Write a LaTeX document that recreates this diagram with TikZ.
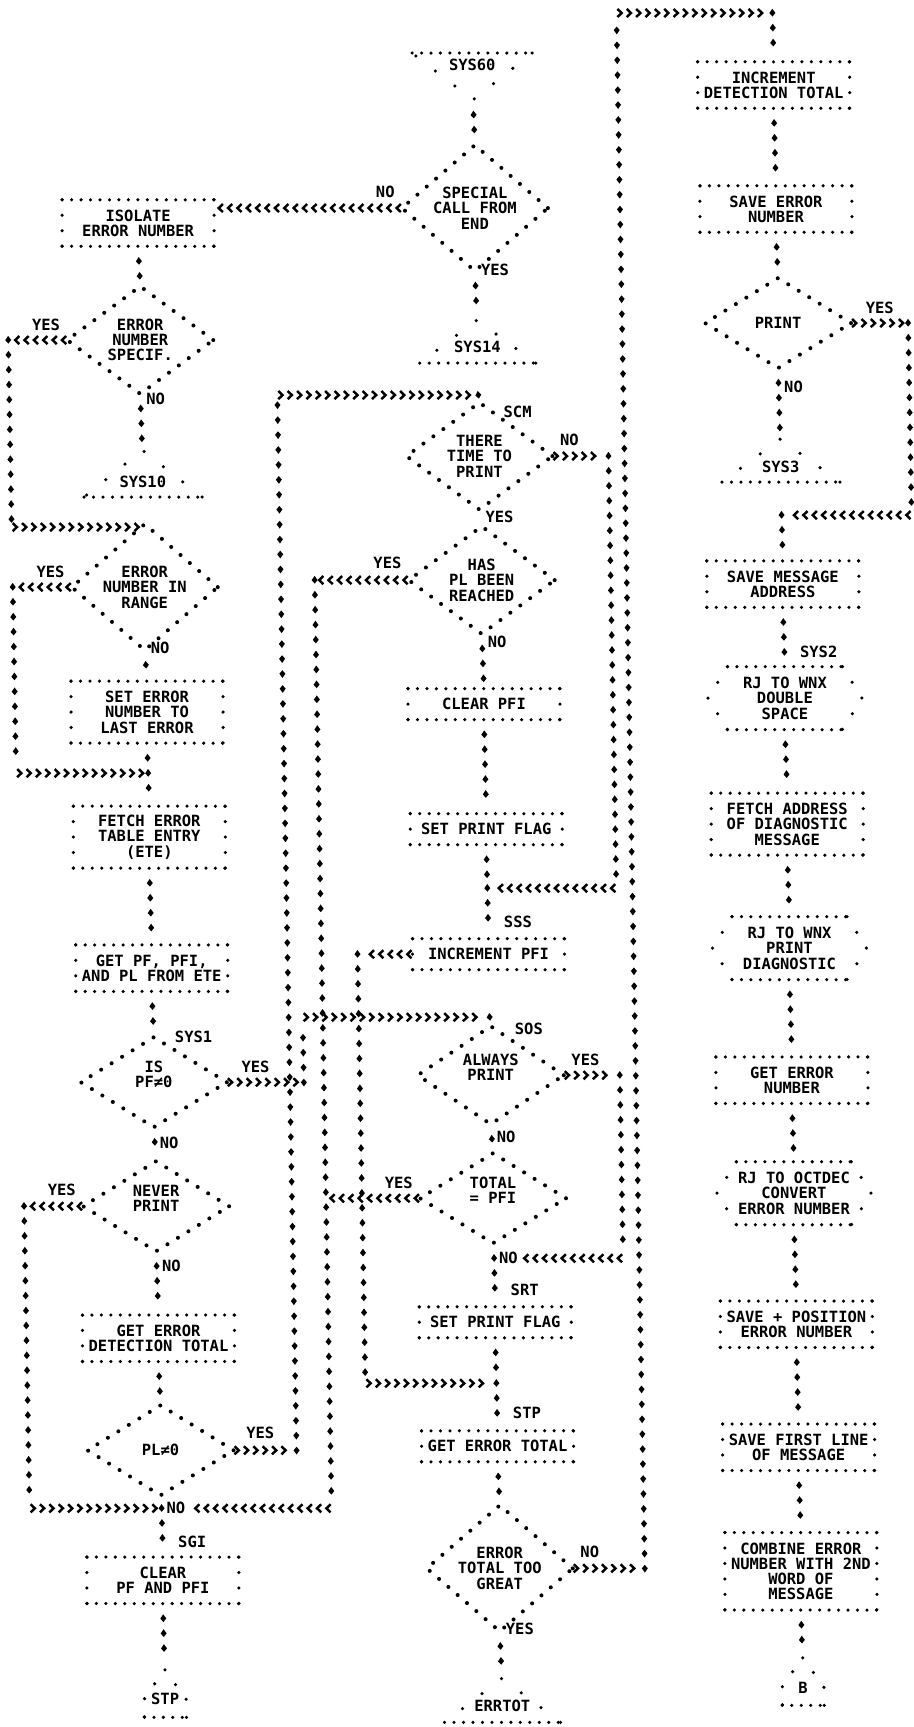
\documentclass[tikz,border=0pt]{standalone}
\usepackage{fontspec}
\newfontfamily\lpfont{DejaVu Sans Mono}
\usetikzlibrary{shapes.geometric,decorations.markings,arrows.meta}

\tikzset{
    every node/.style={font=\lpfont\bfseries\fontsize{8.8}{8.7}\selectfont, inner sep=0pt, outer sep=0pt, align=center},
    dotline/.style={dash pattern=on 0pt off 5.39pt, line cap=round, line width=2pt},
    sidedots/.style={dash pattern=on 0pt off 8.79pt, line cap=round, line width=2pt},
    hexside/.style={dash pattern=on 0pt off 10.5pt, line cap=round, line width=2pt},
    tside/.style={dash pattern=on 0pt off 14pt, line cap=round, line width=2pt},
    tsmall/.style={dash pattern=on 0pt off 10.3pt, line cap=round, line width=2pt},
    box/.style={minimum width=3.04cm, minimum height={(#1+1)*0.31cm}},
    box/.default=2,
    decision/.style={shape=diamond, draw, dash pattern=on 0pt off 7pt, line cap=round, line width=2.3pt, minimum width=2.92cm, minimum height=1.8cm},
    hexbox/.style={minimum width=3.08cm, minimum height=1.26cm},
    hflow/.style={decorate, decoration={markings, mark=between positions 4pt and -1.5pt step 5.33pt with {\arrow{Straight Barb[length=2.4pt,width=4.6pt,line width=1.4pt]}}}},
    vflow/.style={decorate, decoration={markings, mark=between positions 8.5pt and -4.5pt step 8.5pt with {\fill (-2.4pt,0pt) -- (0pt,1.7pt) -- (2pt,0pt) -- (0pt,-1.7pt) -- cycle;}}},
    vline/.style={decorate, decoration={markings, mark=between positions 0pt and -4pt step 8.5pt with {\fill (-2.4pt,0pt) -- (0pt,1.7pt) -- (2pt,0pt) -- (0pt,-1.7pt) -- cycle;}}}
}

\begin{document}
\begin{tikzpicture}[x={(0.02cm,0cm)}, y={(0.00036cm,-0.02cm)}]
    \path[use as bounding box, fill=white] (0cm,0cm) rectangle (18.28cm,-34.54cm);

    % Left column
    \node[box=2] (isolate) at (134,223) {ISOLATE\\ERROR NUMBER};
    \node[decision] (specif) at (134,340) {ERROR\\NUMBER\\SPECIF.};
    \node[anchor=east] (specifyes) at (54,325) {YES};
    \node[anchor=west] (specifno) at (139,399) {NO};
    \node (sys10) at (134,482) {SYS10};
    \coordinate (sys10top) at (134,450);
    \coordinate (j1) at (134,527);
    \node[decision] (range) at (134,587) {ERROR\\NUMBER IN\\RANGE};
    \node[anchor=east] (rangeyes) at (54,572) {YES};
    \node[anchor=west] (rangeno) at (139,648) {NO};
    \node[box=3] (seterr) at (134,712) {SET ERROR\\NUMBER TO\\LAST ERROR};
    \coordinate (j2) at (134,773);
    \node[box=3] (fetch) at (134,837) {FETCH ERROR\\TABLE ENTRY\\(ETE)};
    \node[box=2] (getpf) at (134,968) {GET PF, PFI,\\AND PL FROM ETE};
    \node[anchor=west] (sys1) at (156,1037) {SYS1};
    \node[decision] (ispf) at (134,1082) {IS\\PF≠0\\\mbox{}};
    \node[anchor=west] (ispfyes) at (222,1067) {YES};
    \node[anchor=west] (ispfno) at (139,1143) {NO};
    \node[decision] (never) at (134,1206) {NEVER\\PRINT\\\mbox{}};
    \node[anchor=east] (neveryes) at (54,1190) {YES};
    \node[anchor=west] (neverno) at (139,1266) {NO};
    \node[box=2] (geterr) at (134,1338) {GET ERROR\\DETECTION TOTAL};
    \node[decision] (pl) at (134,1450) {PL≠0};
    \node[anchor=west] (plyes) at (220,1433) {YES};
    \coordinate (j3) at (134,1508);
    \node[anchor=west] (j3no) at (139,1508) {NO};
    \node[anchor=west] (sgi) at (150,1542) {SGI};
    \node[box=2] (clear) at (134,1580) {CLEAR\\PF AND PFI};
    \node (stp) at (134,1699) {STP};
    \coordinate (stptop) at (134,1669);

    % Centre column
    \node (sys60) at (471,65) {SYS60};
    \coordinate (sys60bot) at (471,100);
    \node[decision] (special) at (471,208) {SPECIAL\\CALL FROM\\END};
    \node[anchor=east] (specialno) at (391,192) {NO};
    \node[anchor=west] (specialyes) at (476,270) {YES};
    \node (sys14) at (471,347) {SYS14};
    \coordinate (sys14top) at (471,320);
    \coordinate (scmj) at (471,395);
    \node[anchor=west] (scmlbl) at (496,412) {SCM};
    \node[decision] (scm) at (471,456) {THERE\\TIME TO\\PRINT};
    \node[anchor=west] (scmno) at (552,440) {NO};
    \node[anchor=west] (scmyes) at (476,517) {YES};
    \node[decision] (has) at (471,580) {HAS\\PL BEEN\\REACHED};
    \node[anchor=east] (hasyes) at (391,563) {YES};
    \node[anchor=west] (hasno) at (476,642) {NO};
    \node[box=1] (clrpfi) at (471,704) {CLEAR PFI};
    \node[box=1] (setflag) at (471,829) {SET PRINT FLAG};
    \coordinate (j4) at (471,888);
    \node[anchor=west] (sss) at (487,922) {SSS};
    \node[box=1] (incpfi) at (471,954) {INCREMENT PFI};
    \coordinate (j5) at (471,1017);
    \node[anchor=west] (sos) at (496,1029) {SOS};
    \node[decision] (always) at (471,1075) {ALWAYS\\PRINT\\\mbox{}};
    \node[anchor=west] (alwaysyes) at (552,1060) {YES};
    \node[anchor=west] (alwaysno) at (476,1137) {NO};
    \node[decision] (total) at (471,1198) {TOTAL\\= PFI\\\mbox{}};
    \node[anchor=east] (totalyes) at (391,1183) {YES};
    \coordinate (j6) at (471,1258);
    \node[anchor=west] (j6no) at (476,1258) {NO};
    \node[anchor=west] (srt) at (487,1290) {SRT};
    \node[box=1] (setflagb) at (471,1322) {SET PRINT FLAG};
    \coordinate (j7) at (471,1383);
    \node[anchor=west] (stplbl) at (487,1413) {STP};
    \node[box=1] (geterrtot) at (471,1446) {GET ERROR TOTAL};
    \node[decision] (errtotal) at (471,1568) {ERROR\\TOTAL TOO\\GREAT};
    \node[anchor=west] (errtotalno) at (552,1552) {NO};
    \node[anchor=west] (errtotalyes) at (476,1629) {YES};
    \node (errtot) at (471,1706) {ERRTOT};
    \coordinate (errtottop) at (471,1678);

    % Right column
    \coordinate (rtop) at (772,13);
    \node[box=2] (incdet) at (772,85) {INCREMENT\\DETECTION TOTAL};
    \node[box=2] (saveerr) at (772,209) {SAVE ERROR\\NUMBER};
    \node[decision] (print) at (772,323) {PRINT};
    \node[anchor=west] (printyes) at (860,308) {YES};
    \node[anchor=west] (printno) at (777,387) {NO};
    \node (sys3) at (772,467) {SYS3};
    \coordinate (sys3top) at (772,439);
    \coordinate (j8) at (772,515);
    \node[box=2] (savemsg) at (772,584) {SAVE MESSAGE\\ADDRESS};
    \node[anchor=west] (sys2) at (788,652) {SYS2};
    \node[hexbox] (rjdbl) at (772,698) {RJ TO WNX\\DOUBLE\\SPACE};
    \node[box=3] (fetchaddr) at (772,824) {FETCH ADDRESS\\OF DIAGNOSTIC\\MESSAGE};
    \node[hexbox] (rjdiag) at (772,948) {RJ TO WNX\\PRINT\\DIAGNOSTIC};
    \node[box=2] (geterrnum) at (772,1080) {GET ERROR\\NUMBER};
    \node[hexbox] (rjoct) at (772,1193) {RJ TO OCTDEC\\CONVERT\\ERROR NUMBER};
    \node[box=2] (savepos) at (772,1324) {SAVE + POSITION\\ERROR NUMBER};
    \node[box=2] (savefirst) at (772,1447) {SAVE FIRST LINE\\OF MESSAGE};
    \node[box=4] (combine) at (772,1571) {COMBINE ERROR\\NUMBER WITH 2ND\\WORD OF\\MESSAGE};
    \node (bconn) at (772,1687) {B};
    \coordinate (btop) at (772,1657);

    % Box outlines
    \foreach \b in {isolate,seterr,fetch,getpf,geterr,clear,clrpfi,setflag,incpfi,setflagb,geterrtot,incdet,saveerr,savemsg,fetchaddr,geterrnum,savepos,savefirst,combine} {
        \draw[dotline] (\b.north west) -- (\b.north east) (\b.south west) -- (\b.south east);
        \draw[sidedots] (\b.north west) -- (\b.south west) (\b.north east) -- (\b.south east);
    }

    % Subroutine call outlines
    \foreach \h in {rjdbl,rjdiag,rjoct} {
        \draw[dotline] ([xshift=0.39cm]\h.north west) -- ([xshift=-0.39cm]\h.north east) ([xshift=0.39cm]\h.south west) -- ([xshift=-0.39cm]\h.south east);
        \draw[hexside] ([xshift=-0.39cm]\h.north east) -- (\h.east) -- ([xshift=-0.39cm]\h.south east) ([xshift=0.39cm]\h.north west) -- (\h.west) -- ([xshift=0.39cm]\h.south west);
    }

    % Terminal outlines
    \draw[dotline] ([shift={(-60,-12)}]sys60.center) -- ([shift={(60,-12)}]sys60.center);
    \draw[tside] ([shift={(60,-12)}]sys60.center) -- (sys60bot) -- ([shift={(-60,-12)}]sys60.center);
    \draw[dotline] ([shift={(-58,16)}]sys14.center) -- ([shift={(58,16)}]sys14.center);
    \draw[tside] ([shift={(58,16)}]sys14.center) -- (sys14top) -- ([shift={(-58,16)}]sys14.center);
    \draw[dotline] ([shift={(-59,15)}]sys10.center) -- ([shift={(59,15)}]sys10.center);
    \draw[tside] ([shift={(59,15)}]sys10.center) -- (sys10top) -- ([shift={(-59,15)}]sys10.center);
    \draw[dotline] ([shift={(-59,15)}]sys3.center) -- ([shift={(59,15)}]sys3.center);
    \draw[tside] ([shift={(59,15)}]sys3.center) -- (sys3top) -- ([shift={(-59,15)}]sys3.center);
    \draw[dotline] ([shift={(-58,16)}]errtot.center) -- ([shift={(58,16)}]errtot.center);
    \draw[tside] ([shift={(58,16)}]errtot.center) -- (errtottop) -- ([shift={(-58,16)}]errtot.center);
    \draw[dotline] ([shift={(-21,18)}]stp.center) -- ([shift={(21,18)}]stp.center);
    \draw[tsmall] ([shift={(21,18)}]stp.center) -- ([shift={(21,0)}]stp.center) -- (stptop) -- ([shift={(-21,0)}]stp.center) -- ([shift={(-21,18)}]stp.center);
    \draw[dotline] ([shift={(-21,18)}]bconn.center) -- ([shift={(21,18)}]bconn.center);
    \draw[tsmall] ([shift={(21,18)}]bconn.center) -- ([shift={(21,0)}]bconn.center) -- (btop) -- ([shift={(-21,0)}]bconn.center) -- ([shift={(-21,18)}]bconn.center);

    % Loop corners
    \coordinate (specifl) at (2,340);
    \coordinate (specifd) at (2,527);
    \coordinate (rangel) at (2,587);
    \coordinate (ranged) at (2,773);
    \coordinate (neverl) at (2,1206);
    \coordinate (neverd) at (2,1508);
    \coordinate (ispfr) at (284,1082);
    \coordinate (ispfu) at (284,1017);
    \coordinate (plr) at (270,1450);
    \coordinate (plu) at (270,395);
    \coordinate (hasl) at (304,580);
    \coordinate (hasd) at (304,1508);
    \coordinate (totall) at (304,1198);
    \coordinate (incl) at (340,954);
    \coordinate (incd) at (340,1383);
    \coordinate (scmr) at (600,456);
    \coordinate (scmd) at (600,888);
    \coordinate (alwaysr) at (600,1075);
    \coordinate (alwaysd) at (600,1258);
    \coordinate (errr) at (616,1568);
    \coordinate (erru) at (616,13);
    \coordinate (printr) at (902,323);
    \coordinate (printd) at (902,515);

    % Left flow
    \path[vflow] (isolate.south) -- (specif.north);
    \path[vflow] (specif.south) -- (sys10top);
    \path[hflow] (specif.west) -- (specifl);
    \path[vline] (specifl) -- (specifd);
    \path[hflow] (specifd) -- (j1);
    \path[vline] (j1) -- (range.north);
    \path[hflow] (range.west) -- (rangel);
    \path[vline] (rangel) -- (ranged);
    \path[hflow] (ranged) -- (j2);
    \path[vflow] (range.south) -- (seterr.north);
    \path[vflow] (seterr.south) -- (j2);
    \path[vline] (j2) -- (fetch.north);
    \path[vflow] (fetch.south) -- (getpf.north);
    \path[vflow] (getpf.south) -- (ispf.north);
    \path[hflow] (ispf.east) -- (ispfr);
    \path[vline] (ispfr) -- (ispfu);
    \path[hflow] (ispfu) -- (j5);
    \path[vflow] (ispf.south) -- (never.north);
    \path[hflow] (never.west) -- (neverl);
    \path[vline] (neverl) -- (neverd);
    \path[hflow] (neverd) -- (j3);
    \path[vflow] (never.south) -- (geterr.north);
    \path[vflow] (geterr.south) -- (pl.north);
    \path[hflow] (pl.east) -- (plr);
    \path[vline] (plr) -- (plu);
    \path[hflow] (plu) -- (scmj);
    \path[vflow] (pl.south) -- (j3);
    \path[vline] (j3) -- (clear.north);
    \path[vflow] (clear.south) -- (stptop);

    % Centre flow
    \path[vflow] (sys60bot) -- (special.north);
    \path[hflow] (special.west) -- (special.west -| isolate.east);
    \path[vflow] (special.south) -- (sys14top);
    \path[vline] (scmj) -- (scm.north);
    \path[hflow] (scm.east) -- (scmr);
    \path[vline] (scmr) -- (scmd);
    \path[hflow] (scmd) -- (j4);
    \path[vflow] (scm.south) -- (has.north);
    \path[hflow] (has.west) -- (hasl);
    \path[vline] (hasl) -- (hasd);
    \path[hflow] (hasd) -- (j3no.east);
    \path[vflow] (has.south) -- (clrpfi.north);
    \path[vflow] (clrpfi.south) -- (setflag.north);
    \path[vflow] (setflag.south) -- (j4);
    \path[vline] (j4) -- (incpfi.north);
    \path[hflow] (incpfi.west) -- (incl);
    \path[vline] (incl) -- (incd);
    \path[hflow] (incd) -- (j7);
    \path[vline] (j5) -- (always.north);
    \path[hflow] (always.east) -- (alwaysr);
    \path[vline] (alwaysr) -- (alwaysd);
    \path[hflow] (alwaysd) -- (j6no.east);
    \path[vflow] (always.south) -- (total.north);
    \path[hflow] (total.west) -- (totall);
    \path[vflow] (total.south) -- (j6);
    \path[vline] (j6) -- (setflagb.north);
    \path[vflow] (setflagb.south) -- (j7);
    \path[vline] (j7) -- (geterrtot.north);
    \path[vflow] (geterrtot.south) -- (errtotal.north);
    \path[hflow] (errtotal.east) -- (errr);
    \path[vline] (errr) -- (erru);
    \path[hflow] (erru) -- (rtop);
    \path[vflow] (errtotal.south) -- (errtottop);

    % Right flow
    \path[vline] (rtop) -- (incdet.north);
    \path[vflow] (incdet.south) -- (saveerr.north);
    \path[vflow] (saveerr.south) -- (print.north);
    \path[hflow] (print.east) -- (printr);
    \path[vline] (printr) -- (printd);
    \path[hflow] (printd) -- (j8);
    \path[vflow] (print.south) -- (sys3top);
    \path[vline] (j8) -- (savemsg.north);
    \path[vflow] (savemsg.south) -- (rjdbl.north);
    \path[vflow] (rjdbl.south) -- (fetchaddr.north);
    \path[vflow] (fetchaddr.south) -- (rjdiag.north);
    \path[vflow] (rjdiag.south) -- (geterrnum.north);
    \path[vflow] (geterrnum.south) -- (rjoct.north);
    \path[vflow] (rjoct.south) -- (savepos.north);
    \path[vflow] (savepos.south) -- (savefirst.north);
    \path[vflow] (savefirst.south) -- (combine.north);
    \path[vflow] (combine.south) -- (btop);
\end{tikzpicture}
\end{document}
